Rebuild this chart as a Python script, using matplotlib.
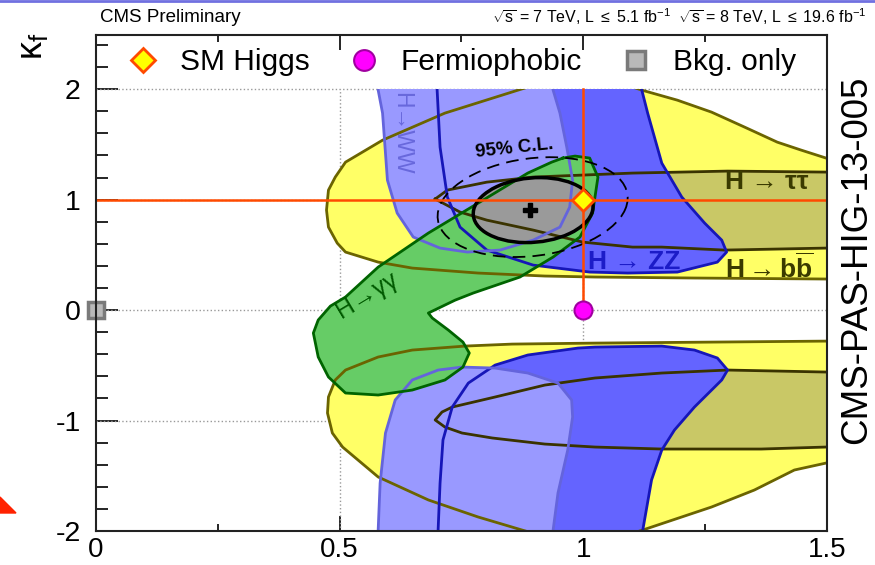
import matplotlib
matplotlib.use("Agg")
import matplotlib.pyplot as plt
from matplotlib.patches import Ellipse, Rectangle, Polygon
from matplotlib.ticker import MultipleLocator
from matplotlib.lines import Line2D

plt.rcParams['font.family'] = ['Liberation Sans', 'DejaVu Sans']
plt.rcParams['mathtext.fontset'] = 'custom'
plt.rcParams['mathtext.rm'] = 'Liberation Sans'
plt.rcParams['mathtext.it'] = 'Liberation Sans:italic'
plt.rcParams['mathtext.bf'] = 'Liberation Sans:bold'

# contours, (kappa_V, kappa_f)
bb_up_kv = [0.91, 0.866, 0.716, 0.588, 0.512, 0.491, 0.477, 0.473, 0.477, 0.495, 0.512, 0.579, 0.649,
            0.784, 0.921, 1.024, 1.228, 1.498, 1.55, 1.55, 1.498, 1.447, 1.398, 1.331, 1.263, 1.193, 1.120, 1.08]
bb_up_kf = [2.05, 1.991, 1.783, 1.538, 1.339, 1.204, 1.086, 0.905, 0.751, 0.606, 0.525, 0.434, 0.380,
            0.335, 0.308, 0.299, 0.290, 0.281, 0.28, 1.376, 1.376, 1.448, 1.520, 1.656, 1.792, 1.900, 1.991, 2.05]

bb_dn_kv = [1.55, 1.498, 1.263, 1.024, 0.854, 0.757, 0.649, 0.579, 0.512, 0.491, 0.477, 0.475, 0.485,
            0.506, 0.579, 0.682, 0.784, 0.874, 0.92, 1.08, 1.122, 1.263, 1.351, 1.433, 1.498, 1.55]
bb_dn_kf = [-0.28, -0.281, -0.290, -0.299, -0.308, -0.326, -0.362, -0.425, -0.543, -0.633, -0.787, -0.932, -1.113,
            -1.240, -1.511, -1.719, -1.873, -1.991, -2.05, -2.05, -1.991, -1.783, -1.629, -1.448, -1.385, -1.38]

tt_up_kv = [0.696, 0.721, 0.802, 0.897, 0.999, 1.101, 1.296, 1.498, 1.55, 1.55, 1.498, 1.290, 1.161,
            1.101, 0.999, 0.897, 0.802, 0.747, 0.712]
tt_up_kf = [1.005, 1.086, 1.158, 1.204, 1.222, 1.240, 1.258, 1.249, 1.25, 0.56, 0.561, 0.543, 0.570,
            0.570, 0.615, 0.724, 0.814, 0.887, 0.968]

tt_dn_kv = [1.55, 1.498, 1.296, 1.161, 1.024, 0.921, 0.819, 0.731, 0.710, 0.696, 0.716, 0.751, 0.813,
            0.921, 1.024, 1.161, 1.365, 1.498, 1.55]
tt_dn_kf = [-0.56, -0.561, -0.543, -0.570, -0.615, -0.679, -0.787, -0.878, -0.923, -0.995, -1.059, -1.113, -1.158,
            -1.213, -1.240, -1.258, -1.258, -1.240, -1.24]

zz_up_kv = [0.699, 0.700, 0.706, 0.721, 0.747, 0.802, 0.897, 1.013, 1.091, 1.193, 1.275, 1.294, 1.284,
            1.249, 1.202, 1.161, 1.132, 1.120, 1.118]
zz_up_kf = [2.05, 1.991, 1.475, 1.023, 0.751, 0.543, 0.407, 0.344, 0.335, 0.344, 0.434, 0.525, 0.633,
            0.787, 1.023, 1.330, 1.783, 1.991, 2.05]

zz_dn_kv = [0.701, 0.702, 0.706, 0.712, 0.731, 0.764, 0.819, 0.886, 0.989, 1.024, 1.161, 1.228, 1.275,
            1.296, 1.284, 1.228, 1.187, 1.161, 1.140, 1.122, 1.121]
zz_dn_kf = [-2.05, -1.991, -1.566, -1.176, -0.878, -0.661, -0.498, -0.407, -0.344, -0.335, -0.326, -0.362, -0.434,
            -0.543, -0.633, -0.878, -1.086, -1.267, -1.538, -1.991, -2.05]

ww_up_kv = [0.579, 0.579, 0.588, 0.598, 0.618, 0.651, 0.706, 0.762, 0.829, 0.897, 0.952, 0.972, 0.978,
            0.966, 0.952, 0.938, 0.936]
ww_up_kf = [2.05, 1.991, 1.783, 1.176, 0.878, 0.661, 0.561, 0.525, 0.543, 0.633, 0.751, 0.932, 1.176,
            1.475, 1.783, 1.991, 2.05]

ww_dn_kv = [0.578, 0.579, 0.583, 0.594, 0.614, 0.649, 0.702, 0.751, 0.819, 0.886, 0.948, 0.976, 0.978,
            0.968, 0.948, 0.938, 0.937]
ww_dn_kf = [-2.05, -1.991, -1.566, -1.113, -0.814, -0.633, -0.543, -0.516, -0.525, -0.570, -0.661, -0.814, -0.968,
            -1.267, -1.656, -1.991, -2.05]

gg_kv = [0.958, 0.983, 1.013, 1.030, 1.019, 0.993, 0.938, 0.870, 0.774, 0.737, 0.682, 0.690, 0.723, 0.753,
         0.766, 0.753, 0.716, 0.649, 0.579, 0.512, 0.477, 0.456, 0.446, 0.456, 0.481, 0.512, 0.579, 0.682,
         0.784, 0.886, 0.935]
gg_kf = [1.376, 1.394, 1.376, 1.204, 0.878, 0.661, 0.480, 0.299, 0.154, 0.090, -0.027, -0.072, -0.181, -0.290,
         -0.389, -0.516, -0.633, -0.724, -0.769, -0.751, -0.606, -0.425, -0.208, -0.090, 0.036, 0.118, 0.389, 0.697,
         0.968, 1.240, 1.339]

# combined fit: best fit, 68% and 95% CL ellipses (center, width, height, angle)
best_fit = (0.890, 0.905)
cl68 = (0.897, 0.905, 0.589, 0.244, 86.8)
cl95 = (0.896, 0.932, 0.907, 0.382, 84.5)

sm_point = (1.0, 1.0)
ferm_point = (1.0, 0.0)
bkg_point = (0.0, 0.0)

xticks = [0, 0.5, 1, 1.5]
xticklabels = ['0', '0.5', '1', '1.5']
yticks = [-2, -1, 0, 1, 2]
yticklabels = ['-2', '-1', '0', '1', '2']

fig = plt.figure(figsize=(8.75, 5.65), dpi=100)
ax = fig.add_axes([96/875, 1-531/565, 731/875, 496/565])
ax.set_xlim(0, 1.5)
ax.set_ylim(-2, 2.49)
ax.set_axisbelow(True)

clip = Rectangle((0, -2), 1.5, 4, transform=ax.transData)

# grid
for g in [0.5, 1.0]:
    ax.plot([g, g], [-2, 2], ls=':', color='#999999', lw=1, zorder=0.6)
for g in [-1, 0, 1, 2]:
    ax.plot([0, 1.5], [g, g], ls=':', color='#999999', lw=1, zorder=0.6)

regions = [
    (bb_up_kv, bb_up_kf, '#ffff66', '#6b6400', 1.0),
    (bb_dn_kv, bb_dn_kf, '#ffff66', '#6b6400', 1.0),
    (tt_up_kv, tt_up_kf, '#c9c866', '#3a3300', 1.1),
    (tt_dn_kv, tt_dn_kf, '#c9c866', '#3a3300', 1.1),
    (zz_up_kv, zz_up_kf, '#6464ff', '#1616b8', 1.2),
    (zz_dn_kv, zz_dn_kf, '#6464ff', '#1616b8', 1.2),
    (ww_up_kv, ww_up_kf, '#9999ff', '#6464dc', 1.3),
    (ww_dn_kv, ww_dn_kf, '#9999ff', '#6464dc', 1.3),
    (gg_kv, gg_kf, '#66cc66', '#006400', 1.4),
]
for kv, kf, fc, ec, z in regions:
    for p in ax.fill(kv, kf, color=fc, lw=0, zorder=z):
        p.set_clip_path(clip)

# 68% CL filled
e68 = Ellipse(cl68[:2], cl68[2], cl68[3], angle=cl68[4], facecolor='#9a9a9a', edgecolor='none', zorder=1.5)
ax.add_patch(e68)

for kv, kf, fc, ec, z in regions:
    line, = ax.plot(kv + kv[:1], kf + kf[:1], color=ec, lw=2, zorder=z + 1)
    line.set_clip_path(clip)

ax.add_patch(Ellipse(cl68[:2], cl68[2], cl68[3], angle=cl68[4], fill=False, edgecolor='black', lw=2.5, zorder=2.6))
ax.add_patch(Ellipse(cl95[:2], cl95[2], cl95[3], angle=cl95[4], fill=False, edgecolor='black', lw=1.3,
                     ls=(0, (7, 4)), zorder=2.7))
ax.plot(*best_fit, marker='P', ms=10, color='black', ls='none', zorder=3)

# SM lines
ax.axhline(sm_point[1], color='#ff4a00', lw=1.8, zorder=3.2)
ax.plot([sm_point[0], sm_point[0]], [ferm_point[1], 2.0], color='#ff4a00', lw=1.8, zorder=3.2)

h_sm, = ax.plot(*sm_point, marker='D', ms=11, mfc='#ffff00', mec='#ff4a00', mew=2, ls='none',
                zorder=4, label='SM Higgs')
h_fp, = ax.plot(*ferm_point, marker='o', ms=13, mfc='#ff00ff', mec='#a000a0', mew=1.5, ls='none',
                zorder=4, label='Fermiophobic')
h_bk, = ax.plot(*bkg_point, marker='s', ms=11, mfc='#b9b9b9', mec='#7a7a7a', mew=2.5, ls='none',
                zorder=4, clip_on=False, label='Bkg. only')

ax.legend(handles=[h_sm, h_fp, h_bk], ncol=3, loc='center left', bbox_to_anchor=(0.044, 0.945),
          frameon=False, fontsize=21.5, handlelength=1.0, handletextpad=0.74, columnspacing=1.3,
          borderpad=0, borderaxespad=0, markerscale=1.15)

# labels on contours
ax.text(0.858, 1.466, '95% C.L.', fontsize=13.5, fontweight='bold', rotation=6, ha='center', va='center', zorder=5)
ax.text(0.628, 1.602, 'H→WW', fontsize=16.5, color='#6868dc', rotation=-90, ha='center', va='center', zorder=5)
ax.text(0.557, 0.136, 'H→γγ', fontsize=18, color='#005a00', rotation=31, ha='center', va='center', zorder=5)
ax.text(1.105, 0.434, 'H → ZZ', fontsize=19, fontweight='bold', color='#1c1cc8', ha='center', va='center', zorder=5)
ax.text(1.376, 1.158, 'H → ττ', fontsize=19, fontweight='bold', color='#3a3a00', ha='center', va='center', zorder=5)
ax.text(1.382, 0.380, r'$\mathbf{H \rightarrow b\overline{b}}$', fontsize=19, color='#3a3a00', ha='center',
        va='center', zorder=5)

# axes style
ax.set_xticks(xticks)
ax.set_xticklabels(xticklabels)
ax.set_yticks(yticks)
ax.set_yticklabels(yticklabels)
ax.xaxis.set_minor_locator(MultipleLocator(0.25))
ax.yaxis.set_minor_locator(MultipleLocator(0.2))
ax.tick_params(axis='x', which='both', direction='in', top=True, bottom=True, labelsize=20, pad=4)
ax.tick_params(axis='x', which='major', length=11, width=1.2)
ax.tick_params(axis='x', which='minor', length=5, width=1.2)
ax.tick_params(axis='y', which='both', direction='in', left=True, right=False, labelsize=20.5, pad=11)
ax.tick_params(axis='y', which='major', length=16, width=1.2)
ax.tick_params(axis='y', which='minor', length=8.5, width=1.2)
for s in ax.spines.values():
    s.set_linewidth(1.5)
    s.set_color('#222222')
    s.set_zorder(6)

fig.text(32/875, 1-46/565, r'$\mathrm{\kappa_f}$', fontsize=26, rotation=90, ha='center', va='center')
fig.text(100/875, 1-17/565, 'CMS Preliminary', fontsize=13.5, ha='left', va='center')
fig.text(866/875, 1-17/565,
         r'$\sqrt{\mathrm{s}}$ = 7 TeV, L $\leq$ 5.1 fb$^{-1}$  $\sqrt{\mathrm{s}}$ = 8 TeV, L $\leq$ 19.6 fb$^{-1}$',
         fontsize=11.5, ha='right', va='center')
fig.text(857/875, 1-260/565, 'CMS-PAS-HIG-13-005', fontsize=26.5, rotation=90, ha='center', va='center')

# slide decorations
fig.add_artist(Line2D([0, 1], [1-1/565, 1-1/565], color='#7070e0', lw=2))
fig.add_artist(Polygon([[0, 1-497/565], [16/875, 1-513/565], [0, 1-513/565]], closed=True,
                       transform=fig.transFigure, color='#ff2200'))

fig.savefig('out.png', dpi=100)
